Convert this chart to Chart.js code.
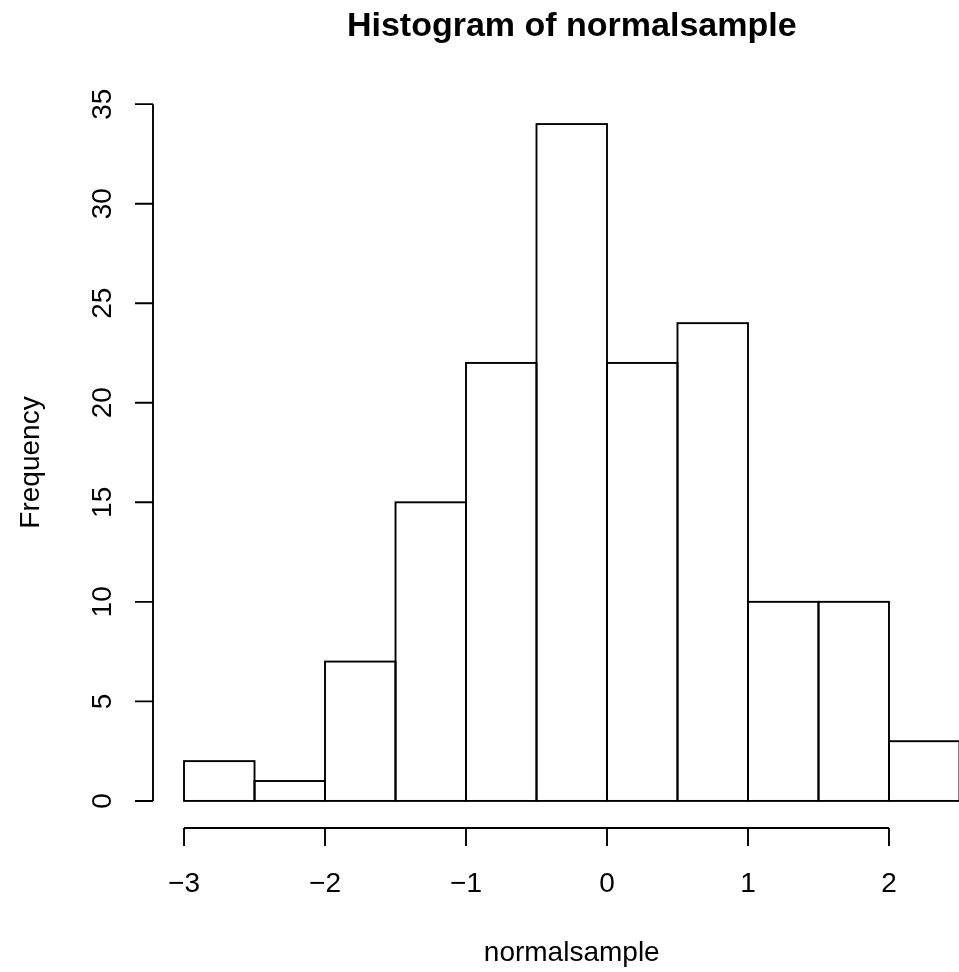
<!DOCTYPE html>
<html>
<head>
<meta charset="utf-8">
<script src="https://cdn.jsdelivr.net/npm/chart.js@4"></script>
<style>
html, body { margin:0; padding:0; background:#fff; overflow:hidden; width:959px; height:972px; }
#wrap { width:1000px; height:972px; }
canvas { display:block; }
</style>
</head>
<body>
<div id="wrap"><canvas id="c" width="1000" height="972"></canvas></div>
<script>
// Histogram bin edges and counts
const breaks = [-3, -2.5, -2, -1.5, -1, -0.5, 0, 0.5, 1, 1.5, 2, 2.5];
const counts = [2, 1, 7, 15, 22, 34, 22, 24, 10, 10, 3];
const xTicks = [-3, -2, -1, 0, 1, 2];
const yTicks = [0, 5, 10, 15, 20, 25, 30, 35];
const titleText = "Histogram of normalsample";
const xLabel = "normalsample";
const yLabel = "Frequency";

const FONT = '"Liberation Sans", Arial, Helvetica, sans-serif';
const fmt = v => (v < 0 ? "\u2212" + Math.abs(v) : String(v));

const barData = counts.map((c, i) => ({ x: (breaks[i] + breaks[i + 1]) / 2, y: c }));

// R-style axis range extension (4%)
const xr = breaks[breaks.length - 1] - breaks[0];
const yMaxData = Math.max(...counts);

// Outline bars with strokes centred on the bin edges (like R's rect())
const barOutline = {
  id: 'barOutline',
  afterDatasetsDraw(chart) {
    const ctx = chart.ctx;
    const meta = chart.getDatasetMeta(0);
    ctx.save();
    ctx.strokeStyle = '#000';
    ctx.lineWidth = 1.9;
    ctx.lineJoin = 'miter';
    meta.data.forEach(el => {
      const p = el.getProps(['x', 'y', 'base', 'width'], true);
      const l = p.x - p.width / 2;
      ctx.strokeRect(l, p.y, p.width, p.base - p.y);
    });
    ctx.restore();
  }
};

const rAxes = {
  id: 'rAxes',
  afterDraw(chart) {
    const ctx = chart.ctx;
    const xs = chart.scales.x, ys = chart.scales.y;
    const area = chart.chartArea;
    ctx.save();
    ctx.strokeStyle = '#000';
    ctx.fillStyle = '#000';
    ctx.lineWidth = 1.9;
    ctx.lineCap = 'butt';
    const tl = 18;
    // Y axis
    const ax = area.left;
    ctx.beginPath();
    ctx.moveTo(ax, ys.getPixelForValue(yTicks[0]));
    ctx.lineTo(ax, ys.getPixelForValue(yTicks[yTicks.length - 1]));
    yTicks.forEach(v => {
      const p = ys.getPixelForValue(v);
      ctx.moveTo(ax, p); ctx.lineTo(ax - tl, p);
    });
    ctx.stroke();
    ctx.font = '28px ' + FONT;
    ctx.textAlign = 'center';
    ctx.textBaseline = 'alphabetic';
    yTicks.forEach(v => {
      const p = ys.getPixelForValue(v);
      ctx.save();
      ctx.translate(111, p);
      ctx.rotate(-Math.PI / 2);
      ctx.fillText(fmt(v), 0, 0);
      ctx.restore();
    });
    // X axis
    const ay = area.bottom;
    ctx.beginPath();
    ctx.moveTo(xs.getPixelForValue(xTicks[0]), ay);
    ctx.lineTo(xs.getPixelForValue(xTicks[xTicks.length - 1]), ay);
    xTicks.forEach(v => {
      const p = xs.getPixelForValue(v);
      ctx.moveTo(p, ay); ctx.lineTo(p, ay + tl);
    });
    ctx.stroke();
    xTicks.forEach(v => {
      ctx.fillText(fmt(v), xs.getPixelForValue(v), 892);
    });
    // Labels
    const cx = (area.left + area.right) / 2;
    ctx.fillText(xLabel, cx, 961);
    ctx.save();
    ctx.translate(39, (area.top + area.bottom) / 2);
    ctx.rotate(-Math.PI / 2);
    ctx.fillText(yLabel, 0, 0);
    ctx.restore();
    ctx.font = 'bold 34px ' + FONT;
    ctx.fillText(titleText, cx, 36);
    ctx.restore();
  }
};

new Chart(document.getElementById('c'), {
  type: 'bar',
  data: {
    datasets: [{
      data: barData,
      backgroundColor: '#ffffff',
      borderWidth: 0,
      barPercentage: 1.0,
      categoryPercentage: 1.0
    }]
  },
  options: {
    responsive: false,
    devicePixelRatio: 1,
    animation: false,
    layout: { padding: { left: 153, top: 97, right: 9.5, bottom: 144 } },
    plugins: { legend: { display: false }, tooltip: { enabled: false }, title: { display: false } },
    scales: {
      x: { type: 'linear', display: false, offset: false, min: breaks[0] - 0.04 * xr, max: breaks[breaks.length - 1] + 0.04 * xr },
      y: { type: 'linear', display: false, min: -0.04 * yMaxData, max: yMaxData * 1.04 }
    }
  },
  plugins: [barOutline, rAxes]
});
</script>
</body>
</html>
